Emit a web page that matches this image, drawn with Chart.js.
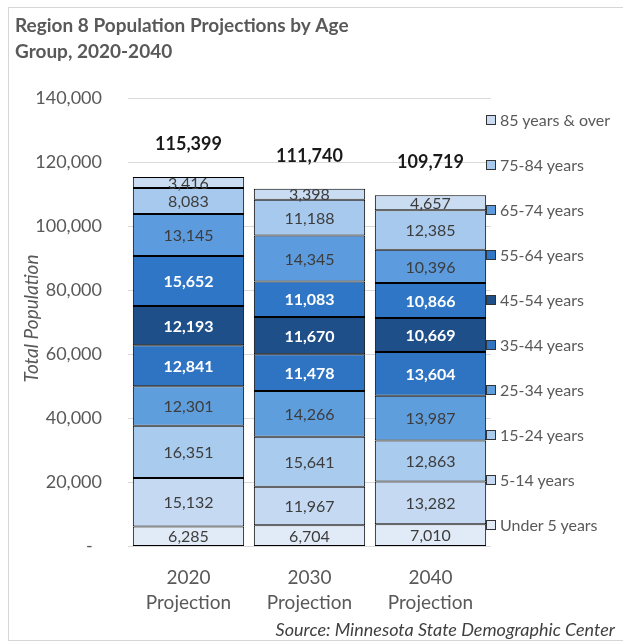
<!DOCTYPE html>
<html>
<head>
<meta charset="utf-8">
<script src="https://cdn.jsdelivr.net/npm/chart.js@4/dist/chart.umd.min.js"></script>
<style>
  html, body { margin: 0; padding: 0; background: #fff; }
  #wrap { position: relative; width: 623px; height: 643px; overflow: hidden; }
  #frame { position: absolute; left: 8px; top: 7px; width: 640px; height: 632px; border: 1px solid #d6d6d6; }
  #chart { position: absolute; left: 0; top: 0; }
  #legend { position: absolute; left: 486px; top: 0; font: 16px Lato, sans-serif; color: #595959; }
  #legend .item { position: absolute; left: 0; white-space: nowrap; display: flex; align-items: center; }
  #legend .sw { width: 8px; height: 8px; border: 1px solid #333; margin-right: 4px; }
</style>
</head>
<body>
<div id="wrap">
  <div id="frame"></div>
  <canvas id="chart" width="623" height="643"></canvas>
  <div id="legend"></div>
</div>
<script>
// Region 8 population projections, stacked by age group

const years = [['2020', 'Projection'], ['2030', 'Projection'], ['2040', 'Projection']];
const ageGroups = ['Under 5 years', '5-14 years', '15-24 years', '25-34 years', '35-44 years',
  '45-54 years', '55-64 years', '65-74 years', '75-84 years', '85 years & over'];

const under5 = [6285, 6704, 7010];
const age5to14 = [15132, 11967, 13282];
const age15to24 = [16351, 15641, 12863];
const age25to34 = [12301, 14266, 13987];
const age35to44 = [12841, 11478, 13604];
const age45to54 = [12193, 11670, 10669];
const age55to64 = [15652, 11083, 10866];
const age65to74 = [13145, 14345, 10396];
const age75to84 = [8083, 11188, 12385];
const age85plus = [3416, 3398, 4657];
const totals = [115399, 111740, 109719];

const yTicks = [0, 20000, 40000, 60000, 80000, 100000, 120000, 140000];

const seriesValues = [under5, age5to14, age15to24, age25to34, age35to44,
  age45to54, age55to64, age65to74, age75to84, age85plus];
const colors = ['#e1ebf7', '#c5daf2', '#a9cbee', '#5f9edd', '#2e74c2',
  '#1f4f88', '#2f77c6', '#5c9cde', '#a7c9ee', '#c9dcf2'];
const whiteText = [false, false, false, false, true, true, true, false, false, false];

const fmt = v => v.toLocaleString('en-US');

// ── Extra text: segment labels, totals, axis title, source ──
const extras = {
  id: 'extras',
  afterDatasetsDraw(chart) {
    const ctx = chart.ctx;
    ctx.save();
    ctx.textAlign = 'center';
    ctx.textBaseline = 'middle';
    chart.data.datasets.forEach((ds, i) => {
      const meta = chart.getDatasetMeta(i);
      meta.data.forEach((bar, j) => {
        const white = whiteText[i];
        ctx.font = (white ? 'bold ' : '') + '16px Lato, sans-serif';
        ctx.fillStyle = white ? '#ffffff' : '#3c3c3c';
        ctx.fillText(fmt(ds.data[j]), bar.x, (bar.y + bar.base) / 2 + 1);
      });
    });
    // totals above stacks
    const yScale = chart.scales.y;
    const xScale = chart.scales.x;
    ctx.font = 'bold 18px Lato, sans-serif';
    ctx.fillStyle = '#1a1a1a';
    totals.forEach((t, j) => {
      ctx.fillText(fmt(t), xScale.getPixelForValue(j), yScale.getPixelForValue(t) - 33);
    });
    // y axis title
    ctx.save();
    ctx.translate(32, (chart.chartArea.top + chart.chartArea.bottom) / 2 - 4);
    ctx.rotate(-Math.PI / 2);
    ctx.font = 'italic 19px Lato, sans-serif';
    ctx.fillStyle = '#595959';
    ctx.fillText('Total Population', 0, 0);
    ctx.restore();
    // source note
    ctx.textAlign = 'right';
    ctx.font = 'italic 18px Lato, sans-serif';
    ctx.fillStyle = '#404040';
    ctx.fillText('Source: Minnesota State Demographic Center', 615, 630);
    ctx.restore();
  }
};

const chart = new Chart(document.getElementById('chart'), {
  type: 'bar',
  data: {
    labels: years,
    datasets: seriesValues.map((vals, i) => ({
      label: ageGroups[i],
      data: vals,
      backgroundColor: colors[i],
      borderColor: '#000000',
      borderWidth: 1,
      borderSkipped: false,
      barPercentage: 0.92,
      categoryPercentage: 1,
    }))
  },
  options: {
    responsive: false,
    animation: false,
    layout: { padding: { left: 15, right: 132, top: 0, bottom: 17 } },
    plugins: {
      legend: { display: false },
      tooltip: { enabled: false },
      title: {
        display: true,
        text: ['Region 8 Population Projections by Age', 'Group, 2020-2040'],
        align: 'start',
        color: '#595959',
        font: { family: 'Lato, sans-serif', size: 19, weight: 'bold', lineHeight: 1.35 },
        padding: { top: 13, bottom: 34 }
      }
    },
    scales: {
      x: {
        stacked: true,
        grid: { display: false },
        border: { display: false },
        ticks: {
          color: '#595959',
          padding: 11,
          font: { family: 'Lato, sans-serif', size: 19, lineHeight: 1.3 }
        }
      },
      y: {
        stacked: true,
        min: 0,
        max: 140000,
        afterBuildTicks: s => { s.ticks = yTicks.map(v => ({ value: v })); },
        afterFit: s => { s.width = 113; },
        grid: { color: '#d9d9d9', drawTicks: false },
        border: { display: false },
        ticks: {
          color: '#595959',
          padding: 26,
          font: { family: 'Lato, sans-serif', size: 18 },
          callback: v => v === 0 ? '-\u00a0\u00a0' : fmt(v)
        }
      }
    }
  },
  plugins: [extras]
});

// ── HTML legend, top item is the last age group ──
const legendEl = document.getElementById('legend');
ageGroups.slice().reverse().forEach((name, k) => {
  const i = ageGroups.length - 1 - k;
  const item = document.createElement('div');
  item.className = 'item';
  item.style.top = (110 + k * 45) + 'px';
  item.innerHTML = '<span class="sw" style="background:' + colors[i] + '"></span>' + name;
  legendEl.appendChild(item);
});
</script>
</body>
</html>
